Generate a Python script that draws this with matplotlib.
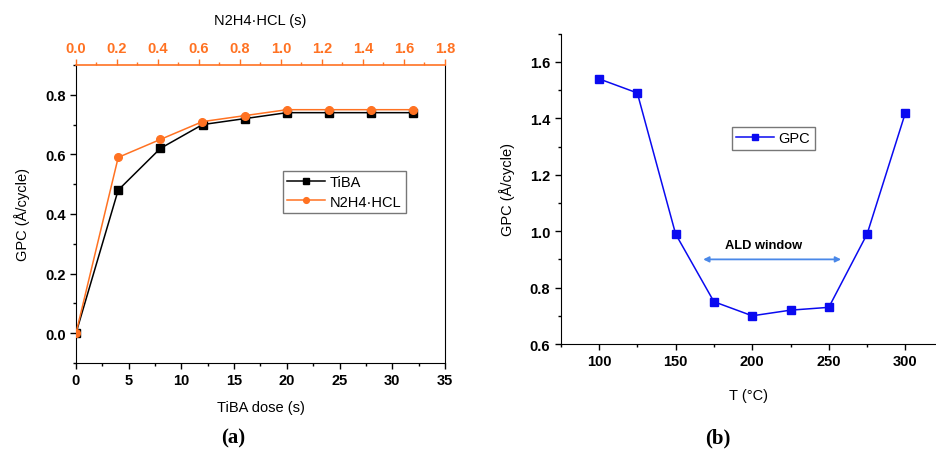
import matplotlib
matplotlib.use("Agg")
import matplotlib.pyplot as plt
from matplotlib.ticker import MultipleLocator

plt.rcParams['font.family'] = ['Liberation Sans', 'DejaVu Sans']

# Panel (a) data
tiba_dose = [0, 4, 8, 12, 16, 20, 24, 28, 32]
tiba_gpc = [0.0, 0.48, 0.62, 0.70, 0.72, 0.74, 0.74, 0.74, 0.74]
n2h4_dose = [0.0, 0.206, 0.411, 0.617, 0.823, 1.029, 1.234, 1.44, 1.646]
n2h4_gpc = [0.0, 0.59, 0.65, 0.71, 0.73, 0.75, 0.75, 0.75, 0.75]

# Panel (b) data
temps = [100, 125, 150, 175, 200, 225, 250, 275, 300]
gpc_t = [1.54, 1.49, 0.99, 0.75, 0.70, 0.72, 0.73, 0.99, 1.42]
ald_window = [168, 258]
ald_y = 0.90

ORANGE = '#FF7222'
BLUE = '#0A0AF0'
ARROW = '#4A88E8'

fig = plt.figure(figsize=(9.37, 4.52), dpi=100)

# ---------- Panel (a) ----------
ax = fig.add_axes([0.0811, 0.1947, 0.3938, 0.6593])
ax.plot(tiba_dose, tiba_gpc, color='black', marker='s', markersize=5.5, lw=1.1, label='TiBA')
ax.set_xlim(0, 35)
ax.set_ylim(-0.1, 0.9)
ax.xaxis.set_major_locator(MultipleLocator(5))
ax.xaxis.set_minor_locator(MultipleLocator(2.5))
ax.yaxis.set_major_locator(MultipleLocator(0.2))
ax.yaxis.set_minor_locator(MultipleLocator(0.1))
ax.set_yticks([0.0, 0.2, 0.4, 0.6, 0.8])
ax.tick_params(axis='both', which='major', direction='out', length=4, labelsize=10.5, width=1)
ax.tick_params(axis='both', which='minor', direction='out', length=2.5, width=1)
ax.tick_params(top=False, right=False, which='both')
for lab in ax.get_xticklabels() + ax.get_yticklabels():
    lab.set_fontweight('bold')
ax.set_xlabel('TiBA dose (s)', fontsize=10.5, labelpad=9)
ax.set_ylabel('GPC (Å/cycle)', fontsize=10.5, labelpad=11)
ax.spines['top'].set_visible(False)

ax2 = ax.twiny()
ax2.plot(n2h4_dose, n2h4_gpc, color=ORANGE, marker='o', markersize=5.5, lw=1.1, label='N2H4·HCL')
ax2.set_xlim(0, 1.8)
ax2.xaxis.set_major_locator(MultipleLocator(0.2))
ax2.xaxis.set_minor_locator(MultipleLocator(0.1))
ax2.tick_params(axis='x', which='major', direction='out', length=4, labelsize=10.5, colors=ORANGE, width=1)
ax2.tick_params(axis='x', which='minor', direction='out', length=2.5, colors=ORANGE, width=1)
for lab in ax2.get_xticklabels():
    lab.set_fontweight('bold')
ax2.spines['top'].set_color(ORANGE)
ax2.spines['top'].set_linewidth(1.2)
for s in ['left', 'right', 'bottom']:
    ax2.spines[s].set_visible(False)
ax2.set_xlabel('N2H4·HCL (s)', fontsize=10.5, labelpad=12, color='black')

h1, l1 = ax.get_legend_handles_labels()
h2, l2 = ax2.get_legend_handles_labels()
leg = ax2.legend(h1 + h2, l1 + l2, loc='upper left', bbox_to_anchor=(0.561, 0.644),
                 borderaxespad=0, fancybox=False, edgecolor='#555555', fontsize=10.5,
                 handlelength=2.6, handletextpad=0.3, borderpad=0.3, labelspacing=0.35,
                 markerscale=0.75)
leg.get_frame().set_linewidth(1.0)

fig.text(0.2487, 0.029, '(a)', fontsize=15, fontweight='bold', family='Liberation Serif',
         ha='center', va='center')

# ---------- Panel (b) ----------
bx = fig.add_axes([0.5984, 0.2367, 0.4006, 0.6865])
bx.plot(temps, gpc_t, color=BLUE, marker='s', markersize=5.5, lw=1.1, label='GPC')
bx.set_xlim(75, 320)
bx.set_ylim(0.6, 1.7)
bx.set_xticks([100, 150, 200, 250, 300])
bx.xaxis.set_minor_locator(MultipleLocator(25))
bx.set_yticks([0.6, 0.8, 1.0, 1.2, 1.4, 1.6])
bx.yaxis.set_minor_locator(MultipleLocator(0.1))
bx.tick_params(axis='both', which='major', direction='out', length=4, labelsize=10.5, width=1)
bx.tick_params(axis='both', which='minor', direction='out', length=2.5, width=1)
for lab in bx.get_xticklabels() + bx.get_yticklabels():
    lab.set_fontweight('bold')
bx.spines['top'].set_visible(False)
bx.spines['right'].set_visible(False)
bx.set_xlabel('T (°C)', fontsize=10.5, labelpad=14)
bx.set_ylabel('GPC (Å/cycle)', fontsize=10.5, labelpad=11)

bx.annotate('', xy=(ald_window[0], ald_y), xytext=(ald_window[1], ald_y),
            arrowprops=dict(arrowstyle='<|-|>', color=ARROW, lw=1.3,
                            mutation_scale=8, shrinkA=0, shrinkB=0))
bx.text(207.5, ald_y + 0.03, 'ALD window', fontsize=9.3, fontweight='bold',
        ha='center', va='bottom')

legb = bx.legend(loc='upper left', bbox_to_anchor=(0.456, 0.700), borderaxespad=0,
                 fancybox=False, edgecolor='#555555', fontsize=10.5, handlelength=2.6,
                 handletextpad=0.3, borderpad=0.3, markerscale=0.75)
legb.get_frame().set_linewidth(1.0)

fig.text(0.766, 0.029, '(b)', fontsize=15, fontweight='bold', family='Liberation Serif',
         ha='center', va='center')

fig.savefig('out.png', dpi=100)
